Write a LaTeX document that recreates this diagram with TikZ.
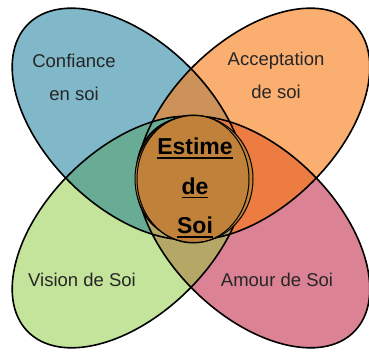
\documentclass[tikz,border=0pt]{standalone}
\usepackage{fontspec}
\setmainfont{Liberation Sans}

\definecolor{confblue}{HTML}{80B8C9}
\definecolor{accorange}{HTML}{FAAE70}
\definecolor{visgreen}{HTML}{C4E49B}
\definecolor{amourpink}{HTML}{DB8394}
\definecolor{mixtop}{HTML}{CD925A}
\definecolor{mixleft}{HTML}{68AC96}
\definecolor{mixright}{HTML}{EC7C42}
\definecolor{mixbottom}{HTML}{B5A766}
\definecolor{estimebrown}{HTML}{C0823A}

% the four petals
\newcommand\petalconf{[rotate around={-44.5:(-62,54)}] (-62,54) ellipse [x radius=142pt, y radius=83pt]}
\newcommand\petalacc{[rotate around={44.5:(62,54)}] (62,54) ellipse [x radius=142pt, y radius=83pt]}
\newcommand\petalvis{[rotate around={44.5:(-62,-54)}] (-62,-54) ellipse [x radius=142pt, y radius=83pt]}
\newcommand\petalamour{[rotate around={-44.5:(62,-54)}] (62,-54) ellipse [x radius=142pt, y radius=83pt]}
\newcommand\ulword[1]{\setbox0\hbox{#1}\rlap{\rule[-4pt]{\wd0}{1.8pt}}\box0}

\begin{document}
\begin{tikzpicture}[x=1pt, y=1pt,
    petal/.style={draw=black, line width=1.6pt},
    petaltext/.style={font=\fontsize{18.5}{33}\selectfont, text=black!85, align=center}]
    \useasboundingbox (-191,-178) rectangle (178,178);

    \fill[confblue] \petalconf;
    \fill[accorange] \petalacc;
    \fill[visgreen] \petalvis;
    \fill[amourpink] \petalamour;

    % overlaps
    \begin{scope}
        \clip \petalconf;
        \fill[mixtop] \petalacc;
        \fill[mixleft] \petalvis;
    \end{scope}
    \begin{scope}
        \clip \petalamour;
        \fill[mixright] \petalacc;
        \fill[mixbottom] \petalvis;
    \end{scope}

    \draw[petal] \petalconf;
    \draw[petal] \petalacc;
    \draw[petal] \petalvis;
    \draw[petal] \petalamour;

    % centre
    \fill[estimebrown] (3,-1) ellipse [x radius=59pt, y radius=63.5pt];
    \draw[line width=1pt] (3,-1) ellipse [x radius=59pt, y radius=63.5pt];
    \draw[line width=1pt] (2,-1) ellipse [x radius=56pt, y radius=64pt];

    \node[petaltext] (confiance) at (-117,101) {Confiance\\en soi};
    \node[petaltext] (acceptation) at (85,103) {Acceptation\\de soi};
    \node[petaltext] (vision) at (-109,-102) {Vision de Soi};
    \node[petaltext] (amour) at (86,-102) {Amour de Soi};
    \node[font=\fontsize{23}{39.5}\selectfont\bfseries, align=center] (estime) at (4,-10) {\ulword{Estime}\\\ulword{de}\\\ulword{Soi}};
\end{tikzpicture}
\end{document}
